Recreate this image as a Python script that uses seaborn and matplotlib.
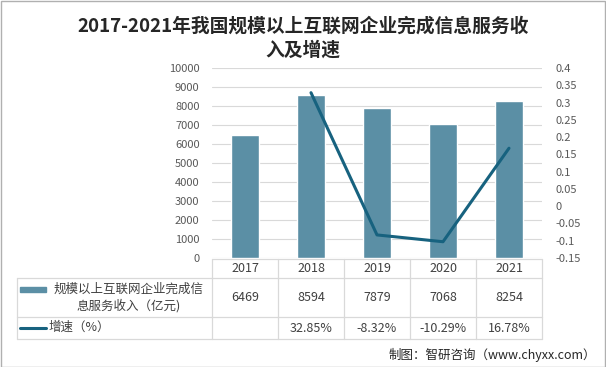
import matplotlib
matplotlib.use("Agg")
import matplotlib.pyplot as plt
import matplotlib.transforms as mtransforms
from matplotlib.lines import Line2D
from matplotlib.patches import Rectangle
import seaborn as sns
import numpy as np
import pandas as pd

years = ["2017", "2018", "2019", "2020", "2021"]
revenue = [6469, 8594, 7879, 7068, 8254]
growth_years = ["2018", "2019", "2020", "2021"]
growth = [0.3285, -0.0832, -0.1029, 0.1678]
title = "2017-2021年我国规模以上互联网企业完成信息服务收\n入及增速"
bar_label = "规模以上互联网企业完成信\n息服务收入（亿元)"
line_label = "增速（%）"
source = "制图：智研咨询（www.chyxx.com）"

sns.set_theme(style="white")
plt.rcParams["font.family"] = ["Noto Sans CJK SC", "DejaVu Sans"]

BAR = "#5B8FA5"
LINE = "#17627F"
GRID = "#D9D9D9"
TXT = "#404040"

W, H = 606, 367
fig = plt.figure(figsize=(W / 100, H / 100), dpi=100)

def fx(px):
    return px / W

def fy(py):
    return 1 - py / H

L, R, T, B = 212, 542, 68, 258
ax = fig.add_axes([fx(L), fy(B), fx(R) - fx(L), fy(T) - fy(B)])

df = pd.DataFrame({"year": years, "revenue": revenue})
sns.barplot(data=df, x="year", y="revenue", color=BAR, width=0.41, ax=ax,
            saturation=1, zorder=2)
ax.set_xlim(-0.5, len(years) - 0.5)
ax.set_ylim(0, 10000)
ax.set_yticks(np.arange(0, 10001, 1000))
ax.yaxis.grid(True, color=GRID, linewidth=0.8, zorder=0)
ax.set_axisbelow(True)
ax.set_xticks([])
ax.set_xlabel("")
ax.set_ylabel("")
ax.tick_params(axis="y", length=0, labelsize=8, labelcolor="#595959", pad=9)
for s in ax.spines.values():
    s.set_visible(False)

ax2 = ax.twinx()
xpos = [years.index(y) for y in growth_years]
sns.lineplot(x=xpos, y=growth, ax=ax2, color=LINE, linewidth=2.2)
ax2.set_ylim(-0.15, 0.4)
ticks = np.round(np.arange(-0.15, 0.4001, 0.05), 2)
ax2.set_yticks(ticks)
ax2.set_yticklabels([f"{t:g}" if abs(t) > 1e-9 else "0" for t in ticks])
ax2.tick_params(axis="y", length=0, labelsize=8, labelcolor="#595959", pad=10)
ax2.set_xlim(-0.5, len(years) - 0.5)
for s in ax2.spines.values():
    s.set_visible(False)

# Data table below the chart
def hline(y, x0, x1):
    fig.add_artist(Line2D([fx(x0), fx(x1)], [fy(y), fy(y)], color=GRID, lw=0.9,
                          transform=fig.transFigure))

def vline(x, y0, y1):
    fig.add_artist(Line2D([fx(x), fx(x)], [fy(y0), fy(y1)], color=GRID, lw=0.9,
                          transform=fig.transFigure))

T0, T1, T2, T3 = 259, 278, 317, 339
hline(T0, L, R)
for yy in (T1, T2, T3):
    hline(yy, 17, R)
vline(17, T1, T3)
ncol = len(years)
for i in range(ncol + 1):
    vline(L + (R - L) * i / ncol, T0, T3)

trans = mtransforms.blended_transform_factory(ax.transData, fig.transFigure)
for i, y in enumerate(years):
    fig.text(i, fy((T0 + T1) / 2), y, transform=trans, ha="center", va="center",
             fontsize=9, color=TXT)
    fig.text(i, fy((T1 + T2) / 2), f"{revenue[i]}", transform=trans, ha="center",
             va="center", fontsize=9, color=TXT)
for x, g in zip(xpos, growth):
    fig.text(x, fy((T2 + T3) / 2), f"{g*100:.2f}%", transform=trans, ha="center",
             va="center", fontsize=9, color=TXT)

# legend keys in table
fig.add_artist(Rectangle((fx(20), fy(292)), fx(46) - fx(20), fy(287) - fy(292),
                         transform=fig.transFigure, color=BAR))
fig.text(fx(129), fy((T1 + T2) / 2), bar_label, ha="center", va="center",
         fontsize=9, color=TXT, linespacing=1.25)
fig.add_artist(Line2D([fx(20), fx(46)], [fy(328), fy(328)], color=LINE, lw=2.2,
                      transform=fig.transFigure))
fig.text(fx(49), fy(327), line_label, ha="left", va="center", fontsize=9, color=TXT)

fig.text(0.5, fy(38), title, ha="center", va="center", fontsize=13.5,
         fontweight="bold", color="#262626", linespacing=1.3)
fig.text(fx(596), fy(355), source, ha="right", va="center", fontsize=9, color="#262626")

fig.add_artist(Rectangle((0.001, 0.001), 0.998, 0.997, transform=fig.transFigure,
                         fill=False, edgecolor="#B0B0B0", lw=1))

fig.savefig("out.png", dpi=100)
